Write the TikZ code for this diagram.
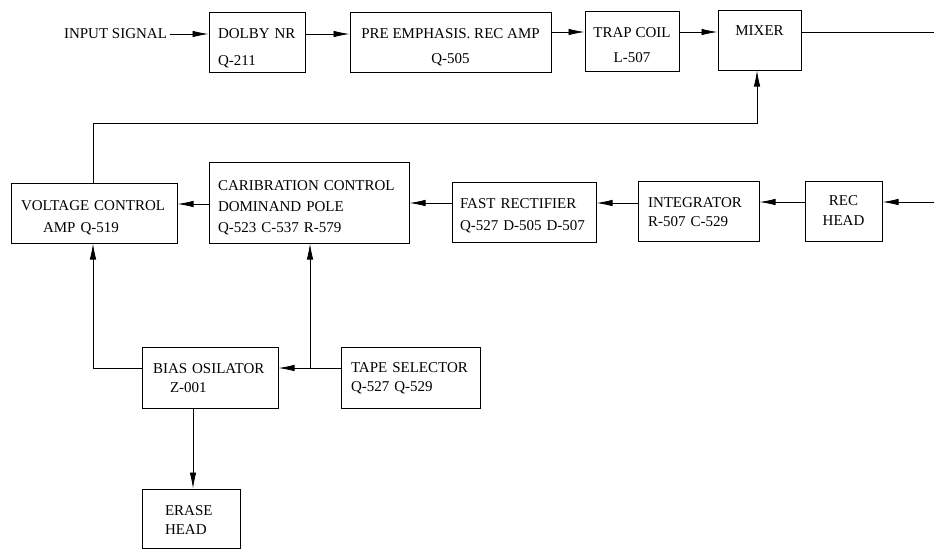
\documentclass[tikz,border=0pt]{standalone}
\usepackage{fontspec}
\setmainfont{Liberation Serif}
\usetikzlibrary{arrows.meta}
\begin{document}
\begin{tikzpicture}[x=1pt,y=-1pt,
  box/.style={draw, line width=1pt, inner sep=0pt, minimum height=60pt},
  fs/.style={font=\fontsize{15}{#1}\selectfont},
  tl/.style={inner sep=0pt, align=left},
  tc/.style={inner sep=0pt, align=center},
  conn/.style={line width=0.8pt},
  arr/.style={conn, -{Latex[length=16pt,width=6.5pt]}}]
\useasboundingbox (0,0) rectangle (934,549);
% top row
\node[fs=20] (input) at (115.5,34) {INPUT SIGNAL};
\node[box, minimum width=96pt, label={[tl, fs=27, text width=78pt, yshift=-6pt]center:{DOLBY NR\\Q-211}}] (dolby) at (257,42) {};
\node[box, minimum width=201pt, label={[tc, fs=25, yshift=-5pt]center:{PRE EMPHASIS. REC AMP\\Q-505}}] (pre) at (450.5,42) {};
\node[box, minimum width=94pt, label={[tc, fs=25, yshift=-4pt]center:{TRAP COIL\\L-507}}] (trap) at (632,41) {};
\node[box, minimum width=83pt, label={[tc, fs=20, yshift=9pt]center:{MIXER}}] (mixer) at (759.5,40) {};
% second row
\node[box, minimum width=166pt, label={[tl, fs=22, text width=146pt, yshift=-5pt]center:{VOLTAGE CONTROL\\\hspace*{22pt}AMP Q-519}}] (vca) at (94,213) {};
\node[box, minimum width=200pt, minimum height=81pt, label={[tl, fs=21, text width=182pt, yshift=-5pt]center:{CARIBRATION CONTROL\\DOMINAND POLE\\Q-523 C-537 R-579}}] (cal) at (309,202.5) {};
\node[box, minimum width=144pt, label={[tl, fs=22, text width=128pt, yshift=-4pt]center:{FAST RECTIFIER\\Q-527 D-505 D-507}}] (fast) at (524,212) {};
\node[box, minimum width=121pt, label={[tl, fs=19, text width=101pt, yshift=-1pt]center:{INTEGRATOR\\R-507 C-529}}] (int) at (698.5,211) {};
\node[box, minimum width=77pt, label={[tc, fs=20]center:{REC\\HEAD}}] (rec) at (843.5,211) {};
% third row
\node[box, minimum width=136pt, minimum height=61pt, label={[tl, fs=19, text width=114pt, yshift=-1pt]center:{BIAS OSILATOR\\\hspace*{17pt}Z-001}}] (bias) at (210,377.5) {};
\node[box, minimum width=139pt, minimum height=61pt, label={[tl, fs=19, text width=119pt, yshift=-1pt]center:{TAPE SELECTOR\\Q-527 Q-529}}] (tape) at (410.5,377.5) {};
\node[box, minimum width=98pt, minimum height=59pt, label={[tl, fs=19, text width=52pt, yshift=-2pt]center:{ERASE\\HEAD}}] (erase) at (191,518.5) {};
% coordinates
\coordinate (out) at (934,32);
\coordinate (recin) at (934,202);
\coordinate (fb1) at (93,123);
\coordinate (fb2) at (757,123);
\coordinate (bl) at (93,368);
\coordinate (j) at (310,368);
\coordinate (eh) at (193,450);
\coordinate (r2a) at (0,204);
\coordinate (r2b) at (0,203);
% connectors top
\draw[arr] (input.east) -- (input.east -| dolby.west);
\draw[arr] ([yshift=8pt]dolby.east) -- ([yshift=8pt]dolby.east -| pre.west);
\draw[arr] ([yshift=10pt]pre.east) -- ([yshift=10pt]pre.east -| trap.west);
\draw[arr] ([yshift=9pt]trap.east) -- ([yshift=9pt]trap.east -| mixer.west);
\draw[conn] (mixer.east |- out) -- (out);
\draw[arr] (fb1 |- vca.north) -- (fb1) -- (fb2) -- (fb2 |- mixer.south);
% connectors second row
\draw[arr] (cal.west |- r2a) -- (vca.east |- r2a);
\draw[arr] (fast.west |- r2b) -- (cal.east |- r2b);
\draw[arr] (int.west |- r2b) -- (fast.east |- r2b);
\draw[arr] (rec.west |- recin) -- (int.east |- recin);
\draw[arr] (recin) -- (rec.east |- recin);
% connectors bottom
\draw[arr] (bias.west |- bl) -- (bl) -- (bl |- vca.south);
\draw[arr] (tape.west |- j) -- (bias.east |- j);
\draw[arr] (j) -- (j |- cal.south);
\draw[arr] (eh |- bias.south) -- (eh |- erase.north);
\end{tikzpicture}
\end{document}
